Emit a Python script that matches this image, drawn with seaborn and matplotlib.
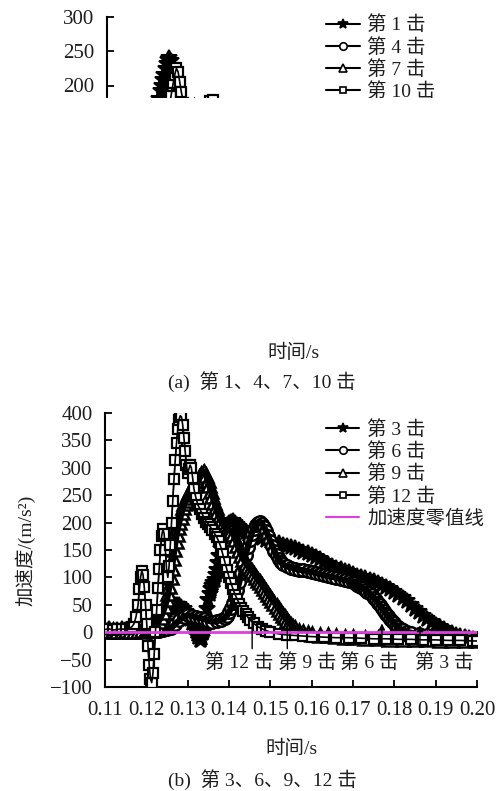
import numpy as np
import pandas as pd
import matplotlib
matplotlib.use("Agg")
import matplotlib.pyplot as plt
import seaborn as sns
from matplotlib.patches import Rectangle

# ---------------- data: panel (a), strikes 1, 4, 7, 10 ----------------
t_s1 = [0.110, 0.112, 0.114, 0.116, 0.117, 0.118, 0.119, 0.120, 0.121, 0.1215, 0.122, 0.1225,
        0.123, 0.1233, 0.1236, 0.1239, 0.1242, 0.1245, 0.1248, 0.1251, 0.1254, 0.1257, 0.126,
        0.1263, 0.1266, 0.1269, 0.1272, 0.1276, 0.128, 0.129, 0.130, 0.132, 0.134, 0.136, 0.138,
        0.140, 0.142, 0.144, 0.146, 0.148, 0.150, 0.152, 0.154, 0.156, 0.158, 0.160, 0.162,
        0.165, 0.170, 0.175, 0.180, 0.185, 0.190, 0.195, 0.200]
a_s1 = [3, 3, 4, 5, 10, 30, 60, 95, 130, 148, 165, 180,
        192, 200, 208, 216, 224, 231, 237, 240, 236, 228, 218,
        207, 196, 185, 175, 162, 150, 140, 135, 128, 122, 118, 112,
        105, 98, 90, 82, 72, 62, 50, 38, 26, 15, 6, 0,
        -5, -8, -10, -12, -13, -14, -15, -15]

t_s4 = [0.110, 0.113, 0.116, 0.119, 0.122, 0.124, 0.126, 0.128, 0.130, 0.132, 0.134, 0.1355,
        0.137, 0.139, 0.141, 0.143, 0.145, 0.148, 0.151, 0.154, 0.157, 0.160, 0.163, 0.166,
        0.169, 0.172, 0.175, 0.180, 0.185, 0.190, 0.195, 0.200]
a_s4 = [2, 2, 3, 2, 4, 10, 30, 60, 100, 140, 160, 168,
        164, 156, 146, 137, 128, 115, 102, 90, 78, 65, 50, 35,
        20, 8, 0, -6, -10, -12, -14, -15]

t_s7 = [0.110, 0.113, 0.116, 0.119, 0.121, 0.123, 0.125, 0.127, 0.129, 0.131, 0.133, 0.135,
        0.137, 0.139, 0.141, 0.143, 0.145, 0.147, 0.149, 0.151, 0.153, 0.155, 0.158, 0.161,
        0.165, 0.170, 0.175, 0.180, 0.185, 0.190, 0.195, 0.200]
a_s7 = [3, 2, 3, 4, 8, 25, 60, 110, 150, 170, 165, 150,
        138, 128, 118, 108, 98, 87, 76, 64, 52, 40, 24, 10,
        0, -6, -9, -11, -12, -13, -14, -15]

t_s10 = [0.110, 0.113, 0.116, 0.119, 0.120, 0.121, 0.122, 0.123, 0.124, 0.1245, 0.125, 0.1255,
         0.126, 0.1264, 0.1268, 0.1272, 0.1276, 0.128, 0.1285, 0.129, 0.130, 0.131, 0.132,
         0.133, 0.134, 0.135, 0.1357, 0.1365, 0.138, 0.140, 0.142, 0.144, 0.146, 0.148,
         0.150, 0.153, 0.156, 0.160, 0.165, 0.170, 0.175, 0.180, 0.185, 0.190, 0.195, 0.200]
a_s10 = [4, 3, 5, 4, 5, 20, 50, 90, 130, 148, 165, 185,
         203, 216, 225, 220, 205, 190, 175, 160, 150, 152, 158,
         165, 172, 177, 179, 172, 155, 135, 115, 95, 75, 55,
         38, 18, 5, -4, -8, -10, -12, -13, -14, -14, -15, -15]

# ---------------- data: panel (b), strikes 3, 6, 9, 12 ----------------
t_s3 = [0.110, 0.111, 0.112, 0.113, 0.114, 0.115, 0.116, 0.117, 0.118, 0.119, 0.120,
        0.1205, 0.121, 0.1215, 0.122, 0.1225, 0.123, 0.1235, 0.124, 0.1245, 0.125, 0.1255,
        0.126, 0.1265, 0.127, 0.1275, 0.128, 0.1285, 0.129, 0.1295, 0.130, 0.1305, 0.131,
        0.1315, 0.132, 0.1323, 0.1326, 0.1329, 0.1332, 0.1335, 0.1338, 0.1341, 0.1344, 0.1347,
        0.135, 0.1353, 0.1356, 0.1359, 0.1362, 0.1365, 0.1368, 0.1371, 0.1374, 0.1377, 0.138,
        0.1383, 0.1386, 0.1389, 0.1392, 0.1395, 0.140, 0.1405, 0.141, 0.1415, 0.142, 0.1425,
        0.143, 0.1435, 0.144, 0.1445, 0.145, 0.146, 0.147, 0.148, 0.149, 0.150, 0.151, 0.152,
        0.153, 0.154, 0.155, 0.156, 0.157, 0.158, 0.159, 0.160, 0.161, 0.162, 0.163, 0.164,
        0.165, 0.166, 0.167, 0.168, 0.169, 0.170, 0.171, 0.172, 0.173, 0.174, 0.175, 0.176,
        0.177, 0.178, 0.179, 0.180, 0.181, 0.182, 0.183, 0.184, 0.185, 0.186, 0.187, 0.188,
        0.189, 0.190, 0.191, 0.192, 0.193, 0.194, 0.195, 0.196, 0.197, 0.198, 0.199, 0.200]
a_s3 = [4, 5, 3, 4, 6, 4, 3, 5, 4, 3, 5,
        6, 8, 10, 13, 17, 22, 27, 32, 37, 41, 44,
        46, 48, 49, 50, 49, 46, 42, 37, 31, 24, 17,
        10, 3, -3, -9, -14, -15, -11, -2, 10, 25, 42,
        58, 70, 79, 85, 90, 96, 104, 114, 126, 139, 152,
        164, 174, 183, 190, 195, 199, 202, 203, 200, 196, 192,
        188, 185, 182, 180, 178, 176, 173, 171, 169, 167, 165, 162,
        160, 158, 156, 153, 150, 147, 144, 140, 137, 133, 129, 125,
        121, 118, 115, 112, 109, 106, 103, 101, 98, 96, 93, 90,
        86, 82, 78, 73, 68, 63, 57, 50, 43, 36, 30, 24,
        18, 13, 9, 5, 1, -2, -5, -7, -9, -11, -13, -14]

t_s6 = [0.110, 0.111, 0.112, 0.113, 0.114, 0.115, 0.116, 0.117, 0.118, 0.119, 0.120, 0.121,
        0.122, 0.123, 0.124, 0.125, 0.126, 0.127, 0.128, 0.129, 0.130, 0.131, 0.132, 0.133,
        0.134, 0.135, 0.136, 0.137, 0.138, 0.139, 0.1395, 0.140, 0.1405, 0.141, 0.1415, 0.142,
        0.1425, 0.143, 0.1435, 0.144, 0.1445, 0.145, 0.1455, 0.146, 0.1465, 0.147, 0.1475,
        0.148, 0.1485, 0.149, 0.1495, 0.150, 0.1505, 0.151, 0.1515, 0.152, 0.1525, 0.153,
        0.154, 0.155, 0.156, 0.157, 0.158, 0.159, 0.160, 0.161, 0.162, 0.163, 0.164, 0.165,
        0.166, 0.167, 0.168, 0.169, 0.170, 0.1705, 0.171, 0.1715, 0.172, 0.1725, 0.173, 0.1735,
        0.174, 0.1745, 0.175, 0.1755, 0.176, 0.1765, 0.177, 0.1775, 0.178, 0.1785, 0.179,
        0.1795, 0.180, 0.1805, 0.181, 0.1815, 0.182, 0.183, 0.184, 0.186, 0.188, 0.190, 0.192,
        0.194, 0.196, 0.198, 0.200]
a_s6 = [2, 3, 2, 1, 2, 3, 2, 1, 2, 3, 2, 1,
        2, 3, 4, 5, 8, 15, 22, 28, 31, 30, 27, 26,
        24, 21, 19, 20, 22, 26, 30, 36, 44, 53, 64, 77,
        92, 108, 124, 140, 155, 168, 180, 189, 196, 200, 201,
        198, 192, 184, 175, 166, 157, 148, 140, 133, 128, 124,
        120, 118, 116, 114, 113, 111, 110, 108, 106, 104, 102, 101,
        99, 97, 95, 94, 91, 89, 87, 85, 82, 80, 77, 74,
        71, 67, 63, 59, 54, 49, 44, 39, 34, 29, 24,
        20, 16, 12, 9, 6, 4, 1, -1, -4, -6, -8, -10,
        -11, -12, -13, -14]

t_s9 = [0.110, 0.111, 0.112, 0.113, 0.114, 0.115, 0.116, 0.117, 0.118, 0.119, 0.120,
        0.1205, 0.121, 0.1215, 0.122, 0.1225, 0.123, 0.1235, 0.124, 0.1245, 0.125, 0.1253,
        0.1256, 0.1259, 0.1262, 0.1265, 0.1268, 0.1271, 0.1274, 0.1277, 0.128, 0.1283, 0.1286,
        0.1289, 0.1292, 0.1295, 0.1298, 0.1301, 0.1304, 0.1307, 0.131, 0.1313, 0.1316, 0.132,
        0.1324, 0.1328, 0.1332, 0.1336, 0.134, 0.1344, 0.1348, 0.1352, 0.1356, 0.136, 0.1364,
        0.1368, 0.1372, 0.1376, 0.138, 0.1385, 0.139, 0.1395, 0.140, 0.1405, 0.141, 0.1415,
        0.142, 0.1425, 0.143, 0.1435, 0.144, 0.1445, 0.145, 0.1455, 0.146, 0.1465, 0.147,
        0.1475, 0.148, 0.1485, 0.149, 0.1495, 0.150, 0.1505, 0.151, 0.1515, 0.152, 0.1525,
        0.153, 0.1535, 0.154, 0.1545, 0.155, 0.1555, 0.156, 0.157, 0.158, 0.159, 0.160, 0.162,
        0.164, 0.166, 0.168, 0.170, 0.173, 0.176, 0.179, 0.182, 0.185, 0.188, 0.191, 0.194,
        0.197, 0.200]
a_s9 = [3, 2, 4, 3, 2, 4, 3, 2, 3, 4, 4,
        5, 6, 8, 10, 14, 20, 27, 36, 47, 60, 72,
        85, 100, 118, 136, 152, 167, 180, 192, 202, 211, 220,
        228, 235, 241, 247, 252, 256, 259, 262, 265, 268, 272,
        278, 283, 288, 291, 292, 287, 278, 268, 258, 248, 238,
        228, 219, 211, 204, 197, 192, 188, 186, 184, 180, 170,
        160, 150, 141, 133, 126, 121, 116, 111, 106, 101, 96,
        91, 86, 81, 76, 70, 65, 59, 54, 48, 43, 37,
        32, 27, 22, 17, 13, 10, 7, 3, 0, -2, -3, -5,
        -6, -7, -8, -9, -10, -11, -12, -12, -13, -13, -14, -14,
        -15, -15]

t_s12 = [0.110, 0.111, 0.112, 0.113, 0.114, 0.115, 0.116, 0.1165, 0.117, 0.1175, 0.118,
         0.1183, 0.1186, 0.1189, 0.1192, 0.1195, 0.1198, 0.1201, 0.1204, 0.1207, 0.121,
         0.1213, 0.1216, 0.1219, 0.1222, 0.1225, 0.1228, 0.1231, 0.1234, 0.1237, 0.124,
         0.1243, 0.1246, 0.1249, 0.1252, 0.1255, 0.1258, 0.1261, 0.1264, 0.1267, 0.127,
         0.1273, 0.1276, 0.1279, 0.1282, 0.1285, 0.1288, 0.1291, 0.1294, 0.1297, 0.130,
         0.1303, 0.1306, 0.1309, 0.1312, 0.1315, 0.132, 0.1325, 0.133, 0.1335, 0.134, 0.1345,
         0.135, 0.1355, 0.136, 0.1365, 0.137, 0.1375, 0.138, 0.1385, 0.139, 0.1395, 0.140,
         0.1405, 0.141, 0.1415, 0.142, 0.1425, 0.143, 0.1435, 0.144, 0.1445, 0.145, 0.146,
         0.147, 0.148, 0.149, 0.150, 0.152, 0.154, 0.156, 0.158, 0.160, 0.163, 0.166, 0.169,
         0.172, 0.175, 0.178, 0.181, 0.184, 0.187, 0.190, 0.193, 0.196, 0.199, 0.200]
a_s12 = [5, 6, 4, 5, 6, 5, 7, 10, 15, 28, 50,
         78, 100, 112, 105, 82, 50, 15, -25, -60, -85,
         -92, -75, -40, 0, 40, 80, 115, 150, 175, 188,
         180, 150, 115, 100, 120, 160, 200, 240, 280, 315,
         345, 370, 388, 395, 393, 378, 355, 330, 305, 290,
         298, 305, 300, 282, 262, 245, 232, 224, 216, 208, 202,
         197, 192, 186, 180, 174, 166, 156, 142, 128, 114, 101,
         89, 78, 68, 60, 52, 45, 39, 33, 28, 23, 16,
         10, 6, 3, 0, -3, -5, -6, -7, -8, -9, -10, -10,
         -11, -12, -12, -13, -13, -14, -14, -15, -15, -16, -16]

x_ticks = [0.11, 0.12, 0.13, 0.14, 0.15, 0.16, 0.17, 0.18, 0.19, 0.20]
y_ticks_a = [-100, -50, 0, 50, 100, 150, 200, 250, 300]
y_ticks_b = [-100, -50, 0, 50, 100, 150, 200, 250, 300, 350, 400]

labels_a = ["第 1 击", "第 4 击", "第 7 击", "第 10 击"]
labels_b = ["第 3 击", "第 6 击", "第 9 击", "第 12 击"]
zero_label = "加速度零值线"

# arrows marking where each strike returns to zero
arrow_t = [0.1456, 0.1541, 0.1770, 0.1862]
arrow_tip = [35, 26, 16, 13]
arrow_tail = [-30, -30, -28, -28]
arrow_text = ["第 12 击", "第 9 击", "第 6 击", "第 3 击"]
arrow_text_x = [0.1425, 0.1590, 0.1740, 0.1920]

# ---------------- styling ----------------
sns.set_theme(style="ticks")
plt.rcParams["font.family"] = ["Liberation Serif", "Noto Sans CJK SC"]
plt.rcParams["axes.unicode_minus"] = True

TXT = "#1e1e1e"
PINK = "#e03ce0"
# marker, face colour, marker size, edge width, width of the dark trace drawn over the markers
styles = [
    dict(marker="*", mfc="black", ms=12, mew=1.5, core=5.0),
    dict(marker="o", mfc="white", ms=9, mew=1.8, core=4.5),
    dict(marker="^", mfc="white", ms=9.5, mew=1.8, core=4.5),
    dict(marker="s", mfc="white", ms=7.5, mew=1.6, core=1.2),
]

fig = plt.figure(figsize=(4.99, 7.91), dpi=100)
W, H = 499, 791
ax_a = fig.add_axes([107 / W, (H - 291) / H, 372 / W, 274 / H])
ax_b = fig.add_axes([105 / W, (H - 687) / H, 372 / W, 274 / H])


def draw_series(ax, ts, vals, labels):
    order = [0, 2, 1, 3]
    for i in order:
        df = pd.DataFrame({"t": ts[i], "a": vals[i]})
        st = styles[i]
        # dense markers along the record
        sns.lineplot(data=df, x="t", y="a", ax=ax, color="black", linewidth=1.0,
                     marker=st["marker"], markersize=st["ms"],
                     markerfacecolor=st["mfc"], markeredgecolor="black",
                     markeredgewidth=st["mew"], estimator=None, sort=False,
                     label=labels[i], zorder=2 + i)
        # heavy trace through the marker centres
        before = set(id(l) for l in ax.lines)
        sns.lineplot(data=df, x="t", y="a", ax=ax, color="black", estimator=None,
                     sort=False, legend=False, zorder=2.5 + i)
        for line in ax.lines:
            if id(line) not in before:
                line.set_linewidth(st["core"])
                line.set_solid_joinstyle("round")
                line.set_solid_capstyle("round")
                line.set_label("_nolegend_")
    ax.axhline(0, color=PINK, lw=2.0, zorder=10, label=zero_label)


def style_axes(ax, yticks, ylim):
    ax.set_xlim(0.11, 0.20)
    ax.set_ylim(*ylim)
    ax.set_xticks(x_ticks)
    ax.set_xticklabels([f"{v:.2f}" for v in x_ticks])
    ax.set_yticks(yticks)
    ax.set_yticklabels([f"{v}".replace("-", "\u2212") for v in yticks])
    for s in ["top", "right"]:
        ax.spines[s].set_visible(False)
    for s in ["left", "bottom"]:
        ax.spines[s].set_color("black")
        ax.spines[s].set_linewidth(1.5)
    ax.tick_params(axis="both", direction="in", length=5, width=1.3,
                   colors="black", labelcolor=TXT, labelsize=15)
    ax.tick_params(axis="y", pad=9)
    ax.tick_params(axis="x", pad=10)
    ax.set_facecolor("white")
    ax.set_xlabel("时间/s", fontsize=14, color=TXT, labelpad=14)


def legend(ax, anchor):
    h, l = ax.get_legend_handles_labels()
    keep = [(hh, ll) for hh, ll in zip(h, l) if not ll.startswith("_")]
    strikes = sorted([k for k in keep if k[1] != zero_label], key=lambda k: int(k[1].split()[1]))
    zero = [k for k in keep if k[1] == zero_label]
    items = strikes + zero
    leg = ax.legend([k[0] for k in items], [k[1] for k in items], loc="upper left",
                    bbox_to_anchor=anchor, frameon=False, fontsize=14, handlelength=1.7,
                    handletextpad=0.4, labelspacing=0.18, borderaxespad=0, borderpad=0,
                    markerscale=0.6, labelcolor=TXT)
    for line in leg.get_lines():
        line.set_linewidth(1.5)
        line.set_markeredgewidth(1.2)


# panel (a)
draw_series(ax_a, [t_s1, t_s4, t_s7, t_s10], [a_s1, a_s4, a_s7, a_s10], labels_a)
style_axes(ax_a, y_ticks_a, (-100, 300))
legend(ax_a, (0.59, 1.005))

# panel (b)
draw_series(ax_b, [t_s3, t_s6, t_s9, t_s12], [a_s3, a_s6, a_s9, a_s12], labels_b)
style_axes(ax_b, y_ticks_b, (-100, 400))
ax_b.set_ylabel("加速度/(m/s²)", fontsize=14, color=TXT, labelpad=10)
legend(ax_b, (0.595, 0.974))

for t, tip, tail, txt, tx in zip(arrow_t, arrow_tip, arrow_tail, arrow_text, arrow_text_x):
    ax_b.annotate("", xy=(t, tip), xytext=(t, tail),
                  arrowprops=dict(arrowstyle="-|>", color="black", lw=1.0,
                                  mutation_scale=9, shrinkA=0, shrinkB=0), zorder=12)
    ax_b.text(tx, -55, txt, fontsize=14, color=TXT, ha="center", va="center", zorder=12)

# blank band across the lower part of panel (a)
fig.add_artist(Rectangle((0, (H - 335) / H), 1, (335 - 98) / H,
                         transform=fig.transFigure, facecolor="white",
                         edgecolor="none", zorder=20))

fig.text(262 / W, 1 - 382 / H, "(a)  第 1、4、7、10 击", fontsize=14, color=TXT,
         ha="center", va="center")
fig.text(262 / W, 1 - 780 / H, "(b)  第 3、6、9、12 击", fontsize=14, color=TXT,
         ha="center", va="center")

fig.savefig("out.png", dpi=100, facecolor="white")
